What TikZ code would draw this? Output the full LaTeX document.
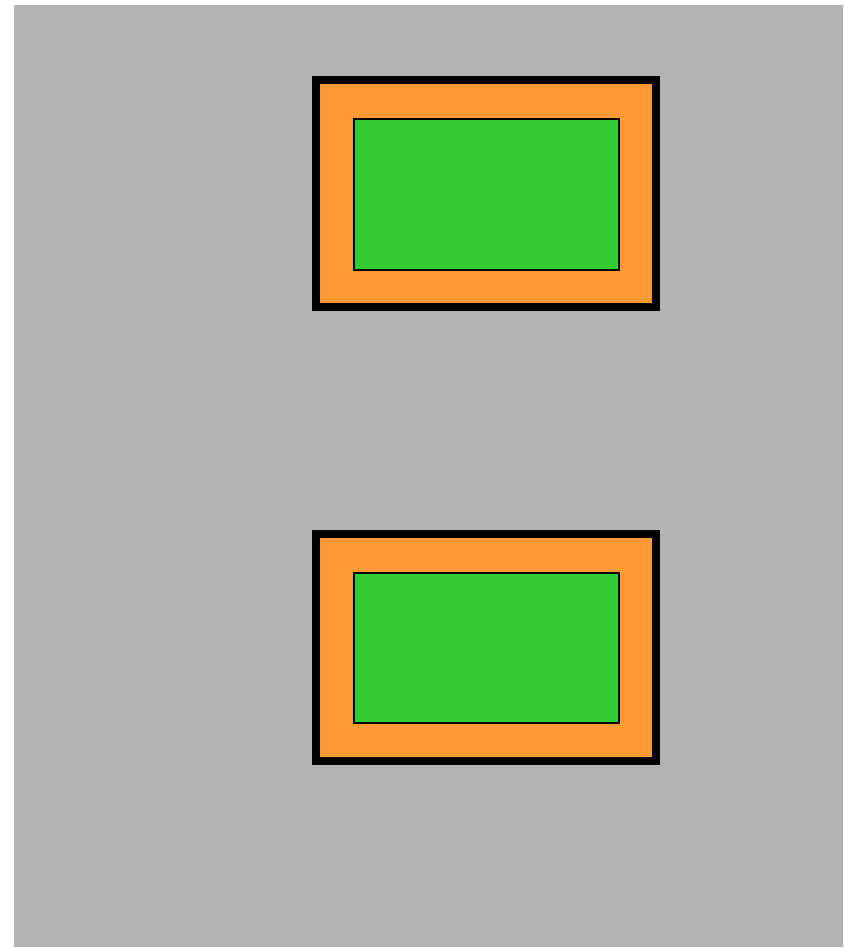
\documentclass[tikz,border=0pt]{standalone}
\begin{document}
\begin{tikzpicture}[x=1pt,y=-1pt,
  outerbox/.style={draw=black,line width=7.5pt,fill=orangefill},
  innerbox/.style={draw=black,line width=1.5pt,fill=greenfill}]
\definecolor{orangefill}{HTML}{FF9933}
\definecolor{greenfill}{HTML}{33CC33}
\definecolor{bggray}{HTML}{B3B3B3}
\useasboundingbox (0,0) rectangle (843,949);
\fill[white] (0,0) rectangle (843,949);
\fill[bggray] (14,5) rectangle (843,947);
\draw[outerbox] (316,80) rectangle (656,307);
\draw[innerbox] (354,119) rectangle (619,270);
\draw[outerbox] (316,534) rectangle (656,761);
\draw[innerbox] (354,573) rectangle (619,723);
\end{tikzpicture}
\end{document}
